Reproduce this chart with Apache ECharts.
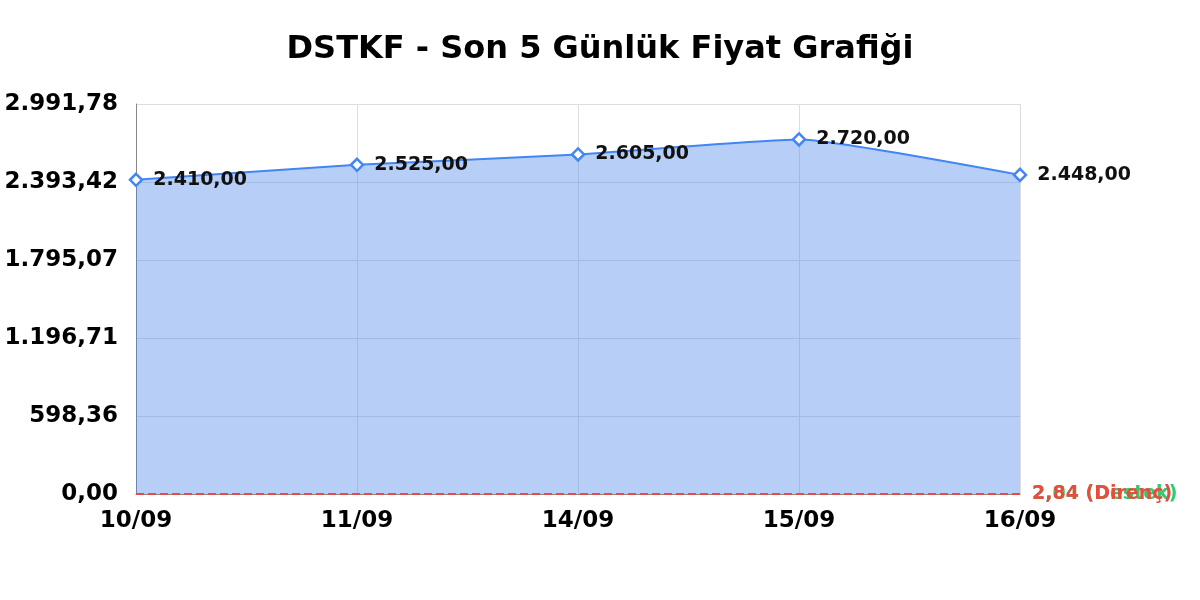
<!DOCTYPE html>
<html><head><meta charset="utf-8">
<script src="https://cdn.jsdelivr.net/npm/echarts@6/dist/echarts.min.js"></script>
<style>html,body{margin:0;padding:0;background:#fff}#c{width:1200px;height:600px}</style>
</head><body><div id="c"></div>
<script>
const categories = ['10/09','11/09','14/09','15/09','16/09'];
const prices = [2410.00, 2525.00, 2605.00, 2720.00, 2448.00];
const supportValue = 2.04;
const resistanceValue = 2.84;
const axisMax = 2991.78;
const axisInterval = 598.356;

function trFmt(v){
  const s = v.toFixed(2);
  let [i,d] = s.split('.');
  i = i.replace(/\B(?=(\d{3})+(?!\d))/g,'.');
  return i + ',' + d;
}
const font = 'DejaVu Sans';
const chart = echarts.init(document.getElementById('c'));
chart.setOption({
  animation:false,
  title:{text:'DSTKF - Son 5 Günlük Fiyat Grafiği',left:'center',top:29,
    textStyle:{fontFamily:font,fontWeight:'bold',fontSize:32,color:'#000'}},
  grid:{left:136,right:180,top:104,bottom:106},
  xAxis:{type:'category',data:categories,boundaryGap:false,
    axisLine:{show:true,lineStyle:{color:'#888',width:1}},
    axisTick:{show:false},
    axisLabel:{fontFamily:font,fontWeight:'bold',fontSize:23,color:'#000',margin:16},
    splitLine:{show:true,lineStyle:{color:'#dedede'}}},
  yAxis:{type:'value',min:0,max:axisMax,interval:axisInterval,
    axisLine:{show:true,lineStyle:{color:'#888',width:1}},
    axisTick:{show:false},
    axisLabel:{fontFamily:font,fontWeight:'bold',fontSize:23,color:'#000',margin:18,padding:[6,0,0,0],formatter:v=>trFmt(v)},
    splitLine:{show:true,lineStyle:{color:'#dedede'}}},
  series:[{
    type:'line',data:prices,smooth:0.15,
    symbol:'diamond',symbolSize:12,
    itemStyle:{color:'#fff',borderColor:'#4285f4',borderWidth:2.5},
    lineStyle:{color:'#4285f4',width:2},
    areaStyle:{color:'rgb(74,134,232)',opacity:0.4},
    label:{show:true,position:'right',distance:10,fontFamily:font,fontWeight:'bold',fontSize:19,color:'#111',
      padding:[4,0,0,0],formatter:p=>trFmt(p.value)},
    markLine:{symbol:'none',silent:true,
      data:[
        {yAxis:supportValue,lineStyle:{color:'#2ecc71',type:'dashed',width:2},
          label:{show:true,position:'end',formatter:trFmt(supportValue)+' (Destek)',color:'#2ecc71',fontFamily:font,fontWeight:'bold',fontSize:19,distance:12}},
        {yAxis:resistanceValue,lineStyle:{color:'#e74c3c',type:'dashed',width:2},
          label:{show:true,position:'end',formatter:trFmt(resistanceValue)+' (Direnç)',color:'#e74c3c',fontFamily:font,fontWeight:'bold',fontSize:19,distance:12}}
      ]}
  }]
});
</script></body></html>
